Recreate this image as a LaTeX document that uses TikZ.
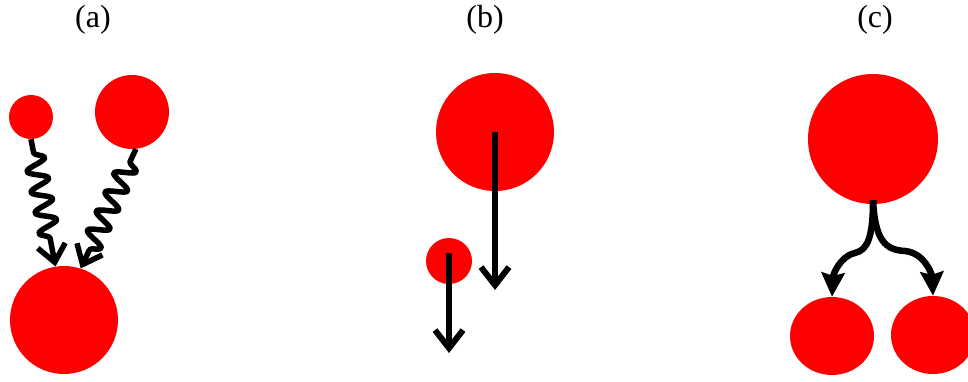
\documentclass[tikz,border=0pt]{standalone}
\usepackage{fontspec}
\setmainfont{Liberation Serif}
\usepackage{tikz}
\usetikzlibrary{arrows.meta,shapes.geometric,decorations.pathmorphing,calc}
\definecolor{ballred}{RGB}{255,0,0}
\tikzset{
  ball/.style={circle, fill=ballred, inner sep=0pt},
  blob/.style={ellipse, fill=ballred, inner sep=0pt},
  tag/.style={anchor=base, font=\fontsize{32}{36}\selectfont},
  wiggle/.style={line width=5.5pt, line join=round, decorate,
    decoration={snake, segment length=21pt, amplitude=10pt, pre length=14pt, post length=20pt},
    -{Straight Barb[length=17pt, width=28pt]}},
  fall/.style={line width=6pt, -{Straight Barb[length=18pt, width=28pt]}},
  split/.style={line width=6.5pt, -{Stealth[length=24pt, width=23pt, inset=3pt]}}
}

\begin{document}
\begin{tikzpicture}[x=1pt, y=-1pt]
\useasboundingbox (0,0) rectangle (968,381);

% labels
\node[tag] (labA) at (93,27) {(a)};
\node[tag] (labB) at (485,27) {(b)};
\node[tag] (labC) at (875,27) {(c)};

% (a) two balls falling into a big one
\node[ball, minimum size=44pt] (smallA) at (31,117) {};
\node[ball, minimum size=74pt] (midA) at (132,112) {};
\node[ball, minimum size=108pt] (bigA) at (64,320) {};
\draw[wiggle] (smallA.south) -- (bigA.99);
\draw[wiggle] (midA.-84) -- (bigA.72);

% (b) big and small ball moving down
\node[ball, minimum size=118pt] (bigB) at (495,132) {};
\node[ball, minimum size=46pt] (smallB) at (449,261) {};
\coordinate (endB1) at (495,290);
\coordinate (endB2) at (449,353);
\draw[fall] (bigB.center) -- (endB1);
\draw[fall, shorten <=-8pt] (smallB.center) -- (endB2);

% (c) one ball splits in two
\node[ball, minimum size=130pt] (topC) at (873,139) {};
\node[blob, minimum width=84pt, minimum height=78pt] (leftC) at (832,336) {};
\node[blob, minimum width=84pt, minimum height=78pt] (rightC) at (933,335) {};
\coordinate (forkC) at (873,200);
\draw[split] (forkC) .. controls (873,236) and (868,250) .. (855,253)
  .. controls (840,256) and (833,275) .. (leftC.north);
\draw[split] (forkC) .. controls (875,240) and (885,250) .. (905,251)
  .. controls (925,253) and (932,275) .. (rightC.north);
\end{tikzpicture}
\end{document}
